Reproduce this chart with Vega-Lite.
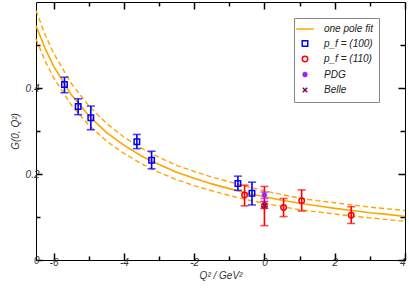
{
  "$schema": "https://vega.github.io/schema/vega-lite/v6.json",
  "width": 369,
  "height": 258,
  "autosize": {"type": "none"},
  "padding": {"left": 36, "top": 2, "right": 4, "bottom": 28},
  "config": {
    "view": {"stroke": "#000", "strokeWidth": 1},
    "font": "Liberation Sans",
    "axis": {
      "grid": false, "domain": false,
      "labelFont": "Liberation Sans", "labelFontStyle": "italic", "labelFontSize": 10, "labelColor": "#333",
      "titleFont": "Liberation Sans", "titleFontStyle": "italic", "titleFontWeight": "normal", "titleFontSize": 10, "titleColor": "#333"
    }
  },
  "datasets": {
    "fit": [
      {"q2": -6.5, "fit": 0.545, "up": 0.580, "lo": 0.514},
      {"q2": -6.25, "fit": 0.494, "up": 0.526, "lo": 0.465},
      {"q2": -6.0, "fit": 0.451, "up": 0.481, "lo": 0.424},
      {"q2": -5.5, "fit": 0.385, "up": 0.411, "lo": 0.361},
      {"q2": -5.0, "fit": 0.336, "up": 0.359, "lo": 0.314},
      {"q2": -4.5, "fit": 0.297, "up": 0.318, "lo": 0.277},
      {"q2": -4.0, "fit": 0.267, "up": 0.286, "lo": 0.248},
      {"q2": -3.5, "fit": 0.242, "up": 0.260, "lo": 0.224},
      {"q2": -3.0, "fit": 0.222, "up": 0.239, "lo": 0.204},
      {"q2": -2.5, "fit": 0.204, "up": 0.220, "lo": 0.187},
      {"q2": -2.0, "fit": 0.190, "up": 0.206, "lo": 0.173},
      {"q2": -1.5, "fit": 0.177, "up": 0.193, "lo": 0.161},
      {"q2": -1.0, "fit": 0.166, "up": 0.182, "lo": 0.150},
      {"q2": -0.5, "fit": 0.156, "up": 0.171, "lo": 0.140},
      {"q2": 0.0, "fit": 0.147, "up": 0.161, "lo": 0.132},
      {"q2": 0.5, "fit": 0.139, "up": 0.152, "lo": 0.124},
      {"q2": 1.0, "fit": 0.132, "up": 0.144, "lo": 0.117},
      {"q2": 1.5, "fit": 0.126, "up": 0.138, "lo": 0.112},
      {"q2": 2.0, "fit": 0.120, "up": 0.133, "lo": 0.107},
      {"q2": 2.5, "fit": 0.115, "up": 0.128, "lo": 0.102},
      {"q2": 3.0, "fit": 0.110, "up": 0.123, "lo": 0.098},
      {"q2": 3.5, "fit": 0.106, "up": 0.119, "lo": 0.094},
      {"q2": 4.0, "fit": 0.101, "up": 0.115, "lo": 0.090}
    ],
    "pts": [
      {"q2": -5.69, "g": 0.408, "lo": 0.389, "hi": 0.425, "series": "p_f = (100)"},
      {"q2": -5.30, "g": 0.357, "lo": 0.338, "hi": 0.375, "series": "p_f = (100)"},
      {"q2": -4.94, "g": 0.331, "lo": 0.303, "hi": 0.358, "series": "p_f = (100)"},
      {"q2": -3.63, "g": 0.275, "lo": 0.259, "hi": 0.292, "series": "p_f = (100)"},
      {"q2": -3.21, "g": 0.232, "lo": 0.212, "hi": 0.253, "series": "p_f = (100)"},
      {"q2": -0.755, "g": 0.178, "lo": 0.162, "hi": 0.195, "series": "p_f = (100)"},
      {"q2": -0.355, "g": 0.155, "lo": 0.128, "hi": 0.181, "series": "p_f = (100)"},
      {"q2": -0.565, "g": 0.151, "lo": 0.126, "hi": 0.174, "series": "p_f = (110)"},
      {"q2": 0.0, "g": 0.126, "lo": 0.080, "hi": 0.171, "series": "p_f = (110)"},
      {"q2": 0.545, "g": 0.122, "lo": 0.101, "hi": 0.143, "series": "p_f = (110)"},
      {"q2": 1.06, "g": 0.138, "lo": 0.114, "hi": 0.163, "series": "p_f = (110)"},
      {"q2": 2.47, "g": 0.104, "lo": 0.085, "hi": 0.124, "series": "p_f = (110)"},
      {"q2": 0.0, "g": 0.151, "lo": 0.143, "hi": 0.158, "series": "PDG"},
      {"q2": 0.0, "g": 0.127, "lo": 0.120, "hi": 0.136, "series": "Belle"}
    ]
  },
  "resolve": {"axis": {"x": "independent", "y": "independent"}},
  "layer": [
    {
      "data": {"name": "fit"},
      "mark": {"type": "line", "color": "#ffa500", "strokeWidth": 1.4, "strokeDash": [5, 3]},
      "encoding": {
        "x": {"field": "q2", "type": "quantitative", "scale": {"domain": [-6.5, 4], "nice": false, "zero": false},
              "axis": {"values": [-6, -4, -2, 0, 2, 4], "ticks": true, "tickColor": "#000", "tickWidth": 1.5, "tickSize": -7, "labelPadding": 4, "labelExpr": "datum.value", "title": "Q² / GeV²", "titlePadding": 3}},
        "y": {"field": "up", "type": "quantitative", "scale": {"domain": [0, 0.6], "nice": false, "zero": false},
              "axis": {"values": [0, 0.2, 0.4], "ticks": true, "tickColor": "#000", "tickWidth": 1.5, "tickSize": -6, "labelPadding": 3, "labelExpr": "datum.value", "title": "G(0, Q²)", "titlePadding": 5}}
      }
    },
    {
      "data": {"name": "fit"},
      "mark": {"type": "line", "color": "#ffa500", "strokeWidth": 1.4, "strokeDash": [5, 3]},
      "encoding": {
        "x": {"field": "q2", "type": "quantitative", "axis": {"orient": "bottom", "values": [-5, -3, -1, 1, 3], "labels": false, "ticks": true, "tickColor": "#000", "tickWidth": 1.5, "tickSize": -4, "title": null}},
        "y": {"field": "lo", "type": "quantitative", "axis": {"orient": "left", "values": [0.1, 0.3, 0.5], "labels": false, "ticks": true, "tickColor": "#000", "tickWidth": 1.5, "tickSize": -4, "title": null}}
      }
    },
    {
      "data": {"name": "fit"},
      "mark": {"type": "line", "color": "#ffa500", "strokeWidth": 1.6},
      "encoding": {
        "x": {"field": "q2", "type": "quantitative", "axis": {"orient": "top", "values": [-6, -4, -2, 0, 2, 4], "labels": false, "ticks": true, "tickColor": "#000", "tickWidth": 1.5, "tickSize": -7, "title": null}},
        "y": {"field": "fit", "type": "quantitative", "axis": {"orient": "right", "values": [0, 0.2, 0.4], "labels": false, "ticks": true, "tickColor": "#000", "tickWidth": 1.5, "tickSize": -7, "title": null}}
      }
    },
    {
      "data": {"name": "pts"},
      "mark": {"type": "rule", "strokeWidth": 1.6},
      "encoding": {
        "x": {"field": "q2", "type": "quantitative", "axis": {"orient": "top", "values": [-5, -3, -1, 1, 3], "labels": false, "ticks": true, "tickColor": "#000", "tickWidth": 1.5, "tickSize": -4, "title": null}},
        "y": {"field": "lo", "type": "quantitative", "axis": {"orient": "right", "values": [0.1, 0.3, 0.5], "labels": false, "ticks": true, "tickColor": "#000", "tickWidth": 1.5, "tickSize": -5, "title": null}},
        "y2": {"field": "hi"},
        "stroke": {"field": "series", "type": "nominal", "legend": null,
                   "scale": {"domain": ["p_f = (100)", "p_f = (110)", "PDG", "Belle"],
                             "range": ["#0000ff", "#ff0000", "#a020f0", "#800060"]}}
      }
    },
    {
      "data": {"name": "pts"},
      "mark": {"type": "tick", "orient": "horizontal", "size": 8, "thickness": 1.6},
      "encoding": {
        "x": {"field": "q2", "type": "quantitative", "axis": null},
        "y": {"field": "lo", "type": "quantitative", "axis": null},
        "fill": {"field": "series", "type": "nominal", "legend": null,
                  "scale": {"domain": ["p_f = (100)", "p_f = (110)", "PDG", "Belle"],
                            "range": ["#0000ff", "#ff0000", "#a020f0", "#800060"]}}
      }
    },
    {
      "data": {"name": "pts"},
      "mark": {"type": "tick", "orient": "horizontal", "size": 8, "thickness": 1.6},
      "encoding": {
        "x": {"field": "q2", "type": "quantitative", "axis": null},
        "y": {"field": "hi", "type": "quantitative", "axis": null},
        "fill": {"field": "series", "type": "nominal", "legend": null}
      }
    },
    {
      "data": {"name": "pts"},
      "mark": {"type": "point", "filled": false, "strokeWidth": 1.5, "size": 30, "opacity": 1},
      "encoding": {
        "x": {"field": "q2", "type": "quantitative", "axis": null},
        "y": {"field": "g", "type": "quantitative", "axis": null},
        "color": {"field": "series", "type": "nominal",
                  "scale": {"domain": ["one pole fit", "p_f = (100)", "p_f = (110)", "PDG", "Belle"],
                            "range": ["#ffa500", "#0000ff", "#ff0000", "#a020f0", "#800060"]},
                  "legend": {"title": null, "orient": "none", "legendX": 258, "legendY": 16,
                             "strokeColor": "#888", "fillColor": "#fff", "padding": 6,
                             "labelFont": "Liberation Sans", "labelFontStyle": "italic", "labelFontSize": 10, "labelColor": "#222",
                             "symbolSize": 30, "symbolStrokeWidth": 1.5, "rowPadding": 3.5, "labelOffset": 14}},
        "shape": {"field": "series", "type": "nominal",
                  "scale": {"domain": ["one pole fit", "p_f = (100)", "p_f = (110)", "PDG", "Belle"],
                            "range": ["M-3.2,0H3.2", "square", "circle", "M0,-1V1M-1,0H1M-0.71,-0.71L0.71,0.71M-0.71,0.71L0.71,-0.71", "M-0.8,-0.8L0.8,0.8M-0.8,0.8L0.8,-0.8"]}}
      }
    }
  ]
}
